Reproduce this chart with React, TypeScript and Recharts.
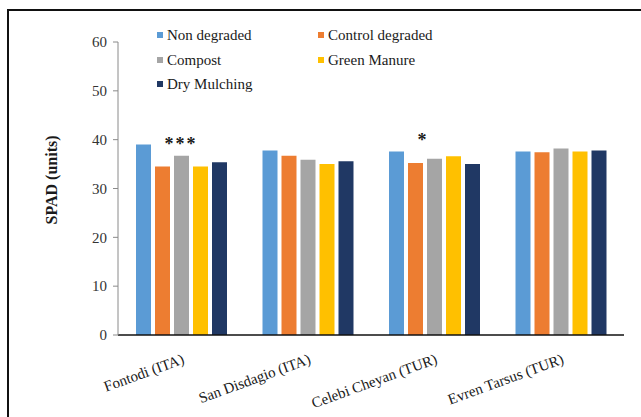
import React from 'react';
import { BarChart, Bar, XAxis, YAxis, LabelList } from 'recharts';

const sites = ['Fontodi (ITA)', 'San Disdagio (ITA)', 'Celebi Cheyan (TUR)', 'Evren Tarsus (TUR)'];
const nonDegraded = [39.0, 37.8, 37.6, 37.6];
const controlDegraded = [34.5, 36.7, 35.2, 37.4];
const compost = [36.7, 35.9, 36.1, 38.2];
const greenManure = [34.5, 35.0, 36.6, 37.6];
const dryMulching = [35.4, 35.6, 35.0, 37.8];
const significance = ['***', '', '*', ''];
const yTicks = [0, 10, 20, 30, 40, 50, 60];

const seriesDefs = [
  { key: 'nonDegraded', name: 'Non degraded', color: '#5B9BD5' },
  { key: 'controlDegraded', name: 'Control degraded', color: '#ED7D31' },
  { key: 'compost', name: 'Compost', color: '#A5A5A5' },
  { key: 'greenManure', name: 'Green Manure', color: '#FFC000' },
  { key: 'dryMulching', name: 'Dry Mulching', color: '#203864' },
];

const data = sites.map((site, i) => ({
  site,
  nonDegraded: nonDegraded[i],
  controlDegraded: controlDegraded[i],
  compost: compost[i],
  greenManure: greenManure[i],
  dryMulching: dryMulching[i],
  sig: significance[i],
}));

const FONT = '"Liberation Serif", "Times New Roman", Tinos, "DejaVu Serif", serif';

const XTick = (props: any) => {
  const { x, y, payload } = props;
  return (
    <text
      transform={`translate(${x + 4},${y + 28}) rotate(-20)`}
      textAnchor="end"
      style={{ fontFamily: FONT }}
      fontSize={15}
      fill="#1a1a1a"
    >
      {payload.value}
    </text>
  );
};

const SigLabel = (props: any) => {
  const { x, y, width, value } = props;
  if (!value) return null;
  return (
    <text
      x={x + width / 2 + 2}
      y={y - 17}
      textAnchor="start"
      style={{ fontFamily: FONT }}
      fontSize={18}
      fontWeight="bold"
      letterSpacing={2}
      fill="#1a1a1a"
    >
      {value}
    </text>
  );
};

const LegendBlock = () => (
  <div
    style={{
      position: 'absolute',
      left: 157,
      top: 23,
      display: 'grid',
      gridTemplateColumns: '161px 161px',
      fontFamily: FONT,
      fontSize: 15,
      color: '#1a1a1a',
      lineHeight: '24.5px',
    }}
  >
    {seriesDefs.map((s) => (
      <div key={s.key} style={{ display: 'flex', alignItems: 'center', whiteSpace: 'nowrap' }}>
        <span
          style={{ display: 'inline-block', width: 6, height: 6, background: s.color, marginRight: 4 }}
        />
        <span>{s.name}</span>
      </div>
    ))}
  </div>
);

export default function App() {
  return (
    <div style={{ position: 'absolute', left: 0, top: 0, width: 641, height: 417, background: '#fff', overflow: 'hidden', fontFamily: FONT }}>
      <div
        style={{
          position: 'absolute',
          left: 7,
          top: 9,
          width: 700,
          height: 500,
          borderLeft: '2px solid #111',
          borderTop: '2px solid #111',
        }}
      />
      <div style={{ position: 'absolute', left: 0, top: 0 }}>
        <BarChart
          width={641}
          height={417}
          data={data}
          margin={{ top: 42, right: 17, bottom: 52, left: 0 }}
          barSize={15}
          barGap={4}
        >
          <XAxis
            dataKey="site"
            height={30}
            axisLine={{ stroke: '#111', strokeWidth: 1.5 }}
            tickLine={false}
            tickSize={0}
            tickMargin={0}
            tick={<XTick />}
            interval={0}
          />
          <YAxis
            width={118}
            domain={[0, 60]}
            ticks={yTicks}
            axisLine={{ stroke: '#8a8a8a', strokeWidth: 1 }}
            tickLine={{ stroke: '#8a8a8a', strokeWidth: 1 }}
            tickSize={5}
            tickMargin={6}
            tick={{ fontFamily: FONT, fontSize: 15, fill: '#333' }}
            label={{
              content: () => (
                <text
                  transform="translate(57,180) rotate(-90)"
                  textAnchor="middle"
                  style={{ fontFamily: FONT }}
                  fontSize={16}
                  fontWeight="bold"
                  fill="#1a1a1a"
                >
                  SPAD (units)
                </text>
              ),
            }}
          />
          {seriesDefs.map((s) => (
            <Bar key={s.key} dataKey={s.key} name={s.name} fill={s.color} isAnimationActive={false}>
              {s.key === 'controlDegraded' ? (
                <LabelList dataKey="sig" content={<SigLabel />} />
              ) : null}
            </Bar>
          ))}
        </BarChart>
      </div>
      <LegendBlock />
    </div>
  );
}
